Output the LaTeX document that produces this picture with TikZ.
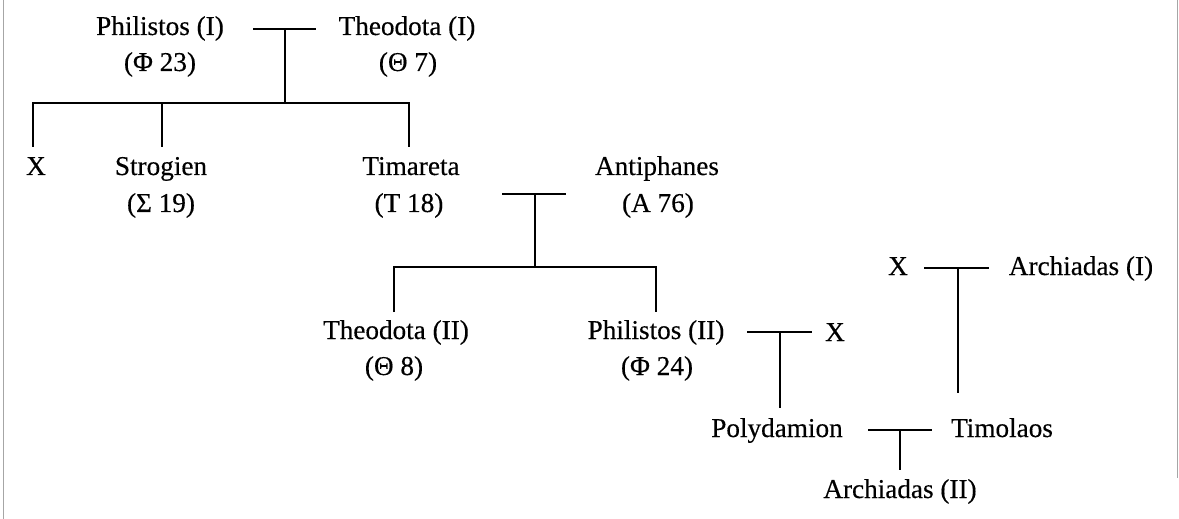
\documentclass[tikz,border=0pt]{standalone}
\usepackage{fontspec}
\setmainfont{Liberation Serif}[FakeBold=0.35]
\begin{document}
\begin{tikzpicture}[x=0.5pt,y=-0.5pt,
  person/.style={inner sep=0pt,anchor=base,font=\fontsize{13.6}{18}\selectfont},
  link/.style={line width=0.75pt,black},
  edge/.style={line width=0.5pt,black!35}]
\useasboundingbox (0,0) rectangle (1179,519);
% scan edges
\coordinate (bl1) at (3,0); \coordinate (bl2) at (3,519);
\coordinate (br1) at (1177,0); \coordinate (br2) at (1177,478);
\draw[edge] (bl1) -- (bl2);
\draw[edge] (br1) -- (br2);
% generation 1
\node[person] (philI) at (160,35) {Philistos (I)};
\node[person] (philInum) at (160,71) {(Φ 23)};
\node[person] (theoI) at (407,35) {Theodota (I)};
\node[person] (theoInum) at (408,71) {(Θ 7)};
\coordinate (m1a) at (253,29); \coordinate (m1b) at (316,29);
\coordinate (m1c) at (285,29); \coordinate (m1d) at (285,103);
\coordinate (s1a) at (33,103); \coordinate (s1b) at (409,103);
\coordinate (s1x) at (33,147); \coordinate (s1s0) at (162,103); \coordinate (s1s) at (162,147);
\coordinate (s1t) at (409,147);
\draw[link] (m1a) -- (m1b);
\draw[link] (m1c) -- (m1d);
\draw[link] (s1x) -- (s1a) -- (s1b) -- (s1t);
\draw[link] (s1s0) -- (s1s);
% generation 2
\node[person] (x1) at (36,175) {X};
\node[person] (strog) at (161,175) {Strogien};
\node[person] (strognum) at (161,212) {(Σ 19)};
\node[person] (tim) at (411,175) {Timareta};
\node[person] (timnum) at (409,212) {(T 18)};
\node[person] (anti) at (657,175) {Antiphanes};
\node[person] (antinum) at (658,212) {(A 76)};
\coordinate (m2a) at (502,194); \coordinate (m2b) at (566,194);
\coordinate (m2c) at (535,194); \coordinate (m2d) at (535,267);
\coordinate (s2a) at (394,267); \coordinate (s2b) at (656,267);
\coordinate (s2l) at (394,312); \coordinate (s2r) at (656,312);
\draw[link] (m2a) -- (m2b);
\draw[link] (m2c) -- (m2d);
\draw[link] (s2l) -- (s2a) -- (s2b) -- (s2r);
% generation 3
\node[person] (theoII) at (396,339) {Theodota (II)};
\node[person] (theoIInum) at (394,375) {(Θ 8)};
\node[person] (philII) at (656,339) {Philistos (II)};
\node[person] (philIInum) at (657,375) {(Φ 24)};
\node[person] (x2) at (835,341) {X};
\coordinate (m3a) at (747,332); \coordinate (m3b) at (812,332);
\coordinate (m3c) at (780,332); \coordinate (m3d) at (780,408);
\draw[link] (m3a) -- (m3b);
\draw[link] (m3c) -- (m3d);
% right family
\node[person] (x3) at (898,275) {X};
\node[person] (archI) at (1081,275) {Archiadas (I)};
\coordinate (m4a) at (924,268); \coordinate (m4b) at (989,268);
\coordinate (m4c) at (958,268); \coordinate (m4d) at (958,393);
\draw[link] (m4a) -- (m4b);
\draw[link] (m4c) -- (m4d);
% generation 4
\node[person] (poly) at (777,437) {Polydamion};
\node[person] (timol) at (1002,437) {Timolaos};
\coordinate (m5a) at (868,430); \coordinate (m5b) at (932,430);
\coordinate (m5c) at (900,430); \coordinate (m5d) at (900,470);
\draw[link] (m5a) -- (m5b);
\draw[link] (m5c) -- (m5d);
\node[person] (archII) at (900,498) {Archiadas (II)};
\end{tikzpicture}
\end{document}
